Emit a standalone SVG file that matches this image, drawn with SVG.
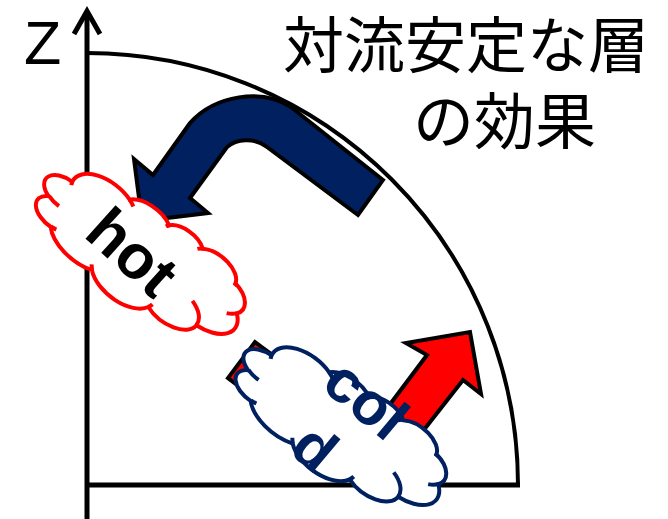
<svg xmlns="http://www.w3.org/2000/svg" width="668" height="519" viewBox="0 0 668 519">
<style>
.ax{fill:none;stroke:#000;stroke-width:5}
.arc{fill:none;stroke:#000;stroke-width:4}
.arrow{stroke:#000;stroke-width:4;stroke-linejoin:miter}
.cloud{fill:#fff;stroke-width:4}
.inner{fill:none;stroke-width:4}
.lbl{font-family:"Liberation Sans",Arial,sans-serif;font-weight:bold}
.title{font-family:"Noto Sans CJK JP","Noto Sans CJK SC",sans-serif;font-size:61px;fill:#000}
</style>
<defs>
<path id="cloudShape" d="M -98.33,-16.74 A 37.52 21.27 0 0 1 -42.19,-37.96 A 29.63 16.82 0 0 1 4.76,-42.05 A 24.25 13.76 0 0 1 45.74,-44.25 A 26.98 15.27 0 0 1 92.87,-37.09 A 29.63 16.84 0 0 1 112.32,-14.21 A 37.64 21.34 0 0 1 87.80,19.92 A 32.14 18.21 0 0 1 38.64,35.22 A 37.51 21.33 0 0 1 -28.44,40.90 A 42.89 24.41 0 0 1 -87.76,32.11 A 24.22 13.70 0 0 1 -108.27,9.15 A 24.14 13.76 0 0 1 -98.33,-16.74 Z"/>
<path id="cloudInner" d="M -93.93,10.59 A 24.14 13.76 0 0 1 -108.01,8.75 M -81.51,30.78 A 24.22 13.70 0 0 1 -87.67,31.67 M -28.46,40.49 A 37.51 21.33 0 0 1 -32.17,36.46 M 40.15,30.44 A 37.51 21.33 0 0 1 38.67,34.86 M 69.61,3.13 A 32.14 18.21 0 0 1 87.67,19.65 M 112.21,-14.46 A 29.63 16.84 0 0 1 104.16,-8.26 M 92.91,-37.44 A 26.98 15.27 0 0 1 93.33,-34.52 M 41.54,-40.85 A 26.98 15.27 0 0 1 45.67,-44.59 M 3.01,-39.07 A 24.25 13.76 0 0 1 5.0,-42.29 M -42.22,-37.98 A 37.52 21.27 0 0 1 -35.01,-34.86 M -97.07,-13.45 A 37.52 21.27 0 0 1 -98.33,-16.73"/>
</defs>
<g id="axes">
<line class="ax" x1="87" y1="12" x2="87" y2="519"/>
<polyline class="ax" points="74,34 87,11 100,34"/>
<line class="ax" x1="87" y1="485" x2="520" y2="485"/>
<path class="arc" d="M 87,53 A 431 432 0 0 1 518,485"/>
<text id="zlabel" x="24" y="64" font-family="Liberation Sans, Arial, sans-serif" font-size="61">Z</text>
</g>
<g id="title">
<text class="title" x="283" y="68">対流安定な層</text>
<text class="title" x="413" y="144">の効果</text>
</g>
<g id="connectors">
<path id="navyArrow" class="arrow" fill="#002060" d="M 383,180 L 291,107 C 262,88 215,95 190,123 L 153,175 L 134,159 L 142,221 L 208,213 L 190,198 L 227,147 C 236,139 254,137 267,147 L 358,215 Z"/>
<path id="redArrow" class="arrow" fill="#ff0000" d="M 255,342 L 355,416 Q 372,429 385,411 L 427,355 L 406,343 L 470,332 L 481,394 L 463,380 L 423,431 L 399,463 Q 365,482 330,455 L 228,378 Z"/>
</g>
<g id="hot">
<g transform="translate(139.5,255.5) rotate(38)" stroke="#ff0000">
<use href="#cloudShape" class="cloud"/>
<use href="#cloudInner" class="inner"/>
</g>
<text class="lbl" font-size="62" fill="#000" text-anchor="middle" transform="translate(118,268) rotate(42)">hot</text>
</g>
<g id="cold">
<g transform="translate(340,428) rotate(37)" stroke="#002060">
<use href="#cloudShape" class="cloud"/>
<use href="#cloudInner" class="inner"/>
</g>
<text class="lbl" font-size="60" fill="#002060" text-anchor="middle" transform="translate(353,415) rotate(40)"><tspan x="0" y="0">col</tspan><tspan x="-8" y="70">d</tspan></text>
</g>
</svg>
